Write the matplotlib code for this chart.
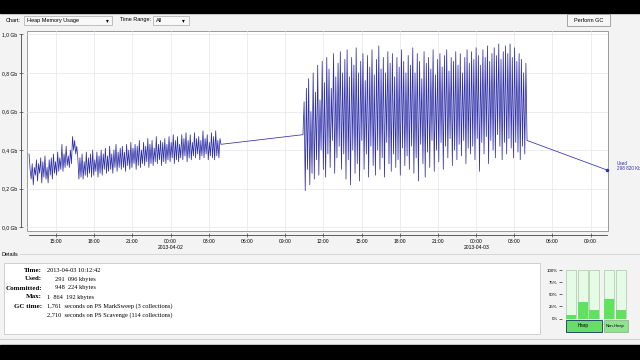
import numpy as np
import matplotlib
matplotlib.use("Agg")
import matplotlib.pyplot as plt
from matplotlib.patches import Rectangle
from matplotlib.transforms import ScaledTranslation

# heap used (Gb), hours counted from 2013-04-01 12:00
seg1_start, seg1_end = 0.88, 15.96
seg1_used = [
    0.38, 0.30, 0.25, 0.33, 0.22, 0.31, 0.27, 0.35, 0.24, 0.33, 0.28, 0.36, 0.23, 0.34, 0.26, 0.37,
    0.25, 0.31, 0.23, 0.35, 0.27, 0.36, 0.25, 0.38, 0.28, 0.34, 0.27, 0.39, 0.29, 0.36, 0.30, 0.43,
    0.29, 0.38, 0.31, 0.42, 0.32, 0.37, 0.31, 0.40, 0.33, 0.47, 0.40, 0.45, 0.38, 0.42, 0.36,
    0.25, 0.36, 0.26, 0.38, 0.25, 0.34, 0.27, 0.39, 0.26, 0.36, 0.28, 0.38, 0.26, 0.40, 0.27, 0.35,
    0.29, 0.39, 0.26, 0.37, 0.28, 0.40, 0.27, 0.38, 0.30, 0.41, 0.28, 0.37, 0.29, 0.42, 0.30, 0.38,
    0.28, 0.40, 0.31, 0.43, 0.29, 0.39, 0.31, 0.41,
    0.30, 0.42, 0.31, 0.39, 0.29, 0.43, 0.32, 0.40, 0.30, 0.44, 0.31, 0.41, 0.33, 0.43, 0.30, 0.42,
    0.32, 0.45, 0.31, 0.40, 0.33, 0.44, 0.32, 0.42, 0.34, 0.46, 0.31, 0.43, 0.33, 0.45, 0.32, 0.41,
    0.34, 0.47, 0.33, 0.43, 0.35, 0.45, 0.32, 0.44,
    0.34, 0.46, 0.33, 0.43, 0.35, 0.47, 0.34, 0.44, 0.36, 0.48, 0.33, 0.45, 0.35, 0.47, 0.34, 0.43,
    0.36, 0.48, 0.35, 0.46, 0.37, 0.49, 0.34, 0.45, 0.36, 0.48, 0.35, 0.44, 0.37, 0.49, 0.36, 0.46,
    0.38, 0.47, 0.35, 0.45, 0.37, 0.50, 0.36, 0.46, 0.38, 0.48, 0.35, 0.44, 0.37, 0.49, 0.36, 0.47,
    0.35, 0.50, 0.37, 0.45, 0.36, 0.46, 0.43,
]
seg2_start, seg2_end = 22.40, 40.0
seg2_used = [
    0.48, 0.65, 0.19, 0.72, 0.30, 0.77, 0.22, 0.60, 0.28, 0.80, 0.25, 0.70, 0.35, 0.84, 0.27, 0.66,
    0.40, 0.86, 0.30, 0.75, 0.26, 0.88, 0.38, 0.82, 0.31, 0.72, 0.45, 0.90, 0.28, 0.78, 0.36, 0.85,
    0.42, 0.91, 0.30, 0.80, 0.38,
    0.87, 0.25, 0.92, 0.35, 0.78, 0.22, 0.88, 0.40, 0.84, 0.28, 0.93, 0.33, 0.80, 0.24, 0.86, 0.45,
    0.90, 0.30, 0.76, 0.38, 0.89, 0.26, 0.83, 0.42, 0.92, 0.32, 0.79, 0.27, 0.87, 0.40, 0.94, 0.30,
    0.82, 0.36, 0.88, 0.26, 0.80, 0.44, 0.91, 0.33, 0.85, 0.29, 0.90, 0.38, 0.78, 0.31, 0.88, 0.35,
    0.83, 0.27, 0.92, 0.41, 0.86, 0.32, 0.80, 0.37,
    0.89, 0.30, 0.84, 0.42, 0.93, 0.28, 0.80, 0.36, 0.90, 0.24, 0.86, 0.43, 0.77, 0.33, 0.91, 0.26,
    0.85, 0.39, 0.88, 0.31, 0.82, 0.45, 0.92, 0.29, 0.79, 0.40, 0.87, 0.34, 0.90, 0.44, 0.83, 0.30,
    0.89, 0.42, 0.92, 0.36, 0.81, 0.46, 0.88, 0.32, 0.86, 0.40, 0.91, 0.35, 0.84, 0.43, 0.90, 0.37,
    0.80, 0.45, 0.88, 0.33, 0.92, 0.41, 0.85, 0.38,
    0.91, 0.42, 0.87, 0.35, 0.93, 0.46, 0.89, 0.29, 0.84, 0.44, 0.92, 0.38, 0.88, 0.47, 0.94, 0.33,
    0.86, 0.45, 0.90, 0.40, 0.93, 0.36, 0.89, 0.48, 0.95, 0.42, 0.87, 0.35, 0.91, 0.44, 0.94, 0.38,
    0.90, 0.46, 0.95, 0.41, 0.88, 0.36, 0.93, 0.44, 0.86, 0.39, 0.90, 0.35, 0.87, 0.42, 0.80, 0.38,
    0.85, 0.45,
]
last_hour, last_used = 46.28, 0.297

xtick_hours = [3, 6, 9, 12, 15, 18, 21, 24, 27, 30, 33, 36, 39, 42, 45]
xtick_labels = ["15:00", "18:00", "21:00", "00:00\n2013-04-02", "03:00", "06:00", "09:00",
                "12:00", "15:00", "18:00", "21:00", "00:00\n2013-04-03", "03:00", "06:00", "09:00"]
ytick_vals = [0.0, 0.2, 0.4, 0.6, 0.8, 1.0]
ytick_labels = ["0,0 Gb", "0,2 Gb", "0,4 Gb", "0,6 Gb", "0,8 Gb", "1,0 Gb"]

pool_names = ["Heap", "Heap", "Heap", "Non-Heap", "Non-Heap"]
pool_pct = [7, 34, 17, 41, 18]

details = [("Time:", "2013-04-03 10:12:42"),
           ("Used:", "     291  096 kbytes"),
           ("Committed:", "     948  224 kbytes"),
           ("Max:", "1  864  192 kbytes"),
           ("GC time:", "1,761  seconds on PS MarkSweep (3 collections)"),
           ("", "2,710  seconds on PS Scavenge (114 collections)")]

W, H = 640, 360
plt.rcParams["font.family"] = ["Liberation Sans", "DejaVu Sans"]
fig = plt.figure(figsize=(W / 100, H / 100), dpi=100, facecolor="#f3f3f3")

def box(x0, y0, x1, y1):
    return [x0 / W, 1 - y1 / H, (x1 - x0) / W, (y1 - y0) / H]

# background overlay for black bands and widgets
bg = fig.add_axes([0, 0, 1, 1])
bg.set_xlim(0, W)
bg.set_ylim(H, 0)
bg.axis("off")
bg.add_patch(Rectangle((0, 0), W, 12.5, color="black"))
bg.add_patch(Rectangle((0, 345), W, 15, color="black"))

# toolbar
bg.text(6, 20, "Chart:", fontsize=4, va="center")
bg.add_patch(Rectangle((24, 16), 88, 8.5, fc="#f8f8f8", ec="#aaaaaa", lw=0.5))
bg.text(27, 20.3, "Heap Memory Usage", fontsize=4, va="center")
bg.text(107, 20.5, "\u25be", fontsize=4, va="center", ha="center", family="DejaVu Sans")
bg.text(120, 20, "Time Range:", fontsize=4, va="center")
bg.add_patch(Rectangle((153, 16), 36, 8.5, fc="#f8f8f8", ec="#aaaaaa", lw=0.5))
bg.text(156, 20.3, "All", fontsize=4, va="center")
bg.text(183, 20.5, "\u25be", fontsize=4, va="center", ha="center", family="DejaVu Sans")
bg.add_patch(Rectangle((567, 14), 43, 11.5, fc="#f6f6f6", ec="#999999", lw=0.6))
bg.text(588.5, 20, "Perform GC", fontsize=4, va="center", ha="center")

# details section
bg.text(1, 254, "Details", fontsize=4, va="center")
bg.plot([20, 640], [254, 254], color="#cccccc", lw=0.5)
bg.add_patch(Rectangle((4, 263), 536, 71, fc="white", ec="#c8c8c8", lw=0.6))
for i, (lab, val) in enumerate(details):
    y = 270 + i * 9
    bg.text(42, y, lab, fontsize=5, family="Liberation Serif", weight="bold", ha="right", va="center")
    bg.text(47, y, val, fontsize=4.6, family="Liberation Serif", ha="left", va="center")
bg.plot([0, 640], [339, 339], color="#d0d0d0", lw=0.8)

# main chart
ax = fig.add_axes(box(27, 31, 608, 231))
ax.set_facecolor("white")
for s in ["top", "right"]:
    ax.spines[s].set_visible(False)
ax.spines["left"].set_position(("outward", 4.3))
ax.spines["bottom"].set_position(("outward", 3))

t1 = np.linspace(seg1_start, seg1_end, len(seg1_used))
t2 = np.linspace(seg2_start, seg2_end, len(seg2_used))
hours = np.concatenate([t1, t2, [last_hour]])
used = np.concatenate([seg1_used, seg2_used, [last_used]])
ax.plot(hours, used, color="#3030a8", lw=0.55)
ax.plot([last_hour], [last_used], "o", color="#3030a8", ms=1.5, clip_on=False)
ax.text(last_hour + 0.75, last_used + 0.02, "Used\n298 820 Kb", fontsize=3.3,
        color="#2f2fb0", va="center", linespacing=1.1)

ax.set_xlim(0.72, 46.36)
ax.set_ylim(-0.019, 1.017)
ax.set_xticks(xtick_hours)
ax.set_xticklabels(xtick_labels, fontsize=3.6, ha="center", linespacing=1.1)
shift = ScaledTranslation(5 / 100, 0, fig.dpi_scale_trans)
for lab in ax.get_xticklabels():
    lab.set_transform(lab.get_transform() + shift)
ax.set_yticks(ytick_vals)
ax.set_yticklabels(ytick_labels, fontsize=3.6)
ax.grid(True, color="#e4e4ec", lw=0.5)
ax.tick_params(direction="inout", length=3, width=0.5, color="#444444", pad=1.5)
ax.spines["left"].set_bounds(0, 1.0)
ax.spines["bottom"].set_bounds(seg1_start, last_hour)
for s in ["left", "bottom"]:
    ax.spines[s].set_linewidth(0.6)
    ax.spines[s].set_color("#444444")
ax.add_patch(Rectangle((0, 0), 1, 1, transform=ax.transAxes, fill=False,
                       ec="#9a9a9a", lw=0.7, clip_on=False))

# memory pool bars
bx = fig.add_axes(box(562, 270, 628, 318.5))
bx.set_xlim(0, 66)
bx.set_ylim(0, 100)
bar_x = [4, 16, 27, 42, 54]
bx.bar(bar_x, [100] * 5, width=10, align="edge", color="#e6fbe6", edgecolor="#a8c8a8", lw=0.5)
bx.bar(bar_x, pool_pct, width=10, align="edge", color="#5fe35f", lw=0)
bx.set_yticks([0, 25, 50, 75, 100])
bx.set_yticklabels(["0%", "25%", "50%", "75%", "100%"], fontsize=3.2)
bx.tick_params(axis="y", length=2, width=0.4, pad=1)
bx.set_xticks([])
for s in bx.spines.values():
    s.set_visible(False)
bx.set_facecolor("none")

bg.add_patch(Rectangle((565.5, 320), 36, 12, fc="#66dd66", ec="#2a4a6a", lw=0.7))
bg.text(583.5, 326, "Heap", fontsize=3.3, ha="center", va="center")
bg.add_patch(Rectangle((603.5, 320), 24, 12, fc="#8ee38e", ec="#8aa88a", lw=0.5))
bg.text(615.5, 326, "Non-Heap", fontsize=3.0, ha="center", va="center")

fig.savefig("out.png", dpi=100, facecolor=fig.get_facecolor())
